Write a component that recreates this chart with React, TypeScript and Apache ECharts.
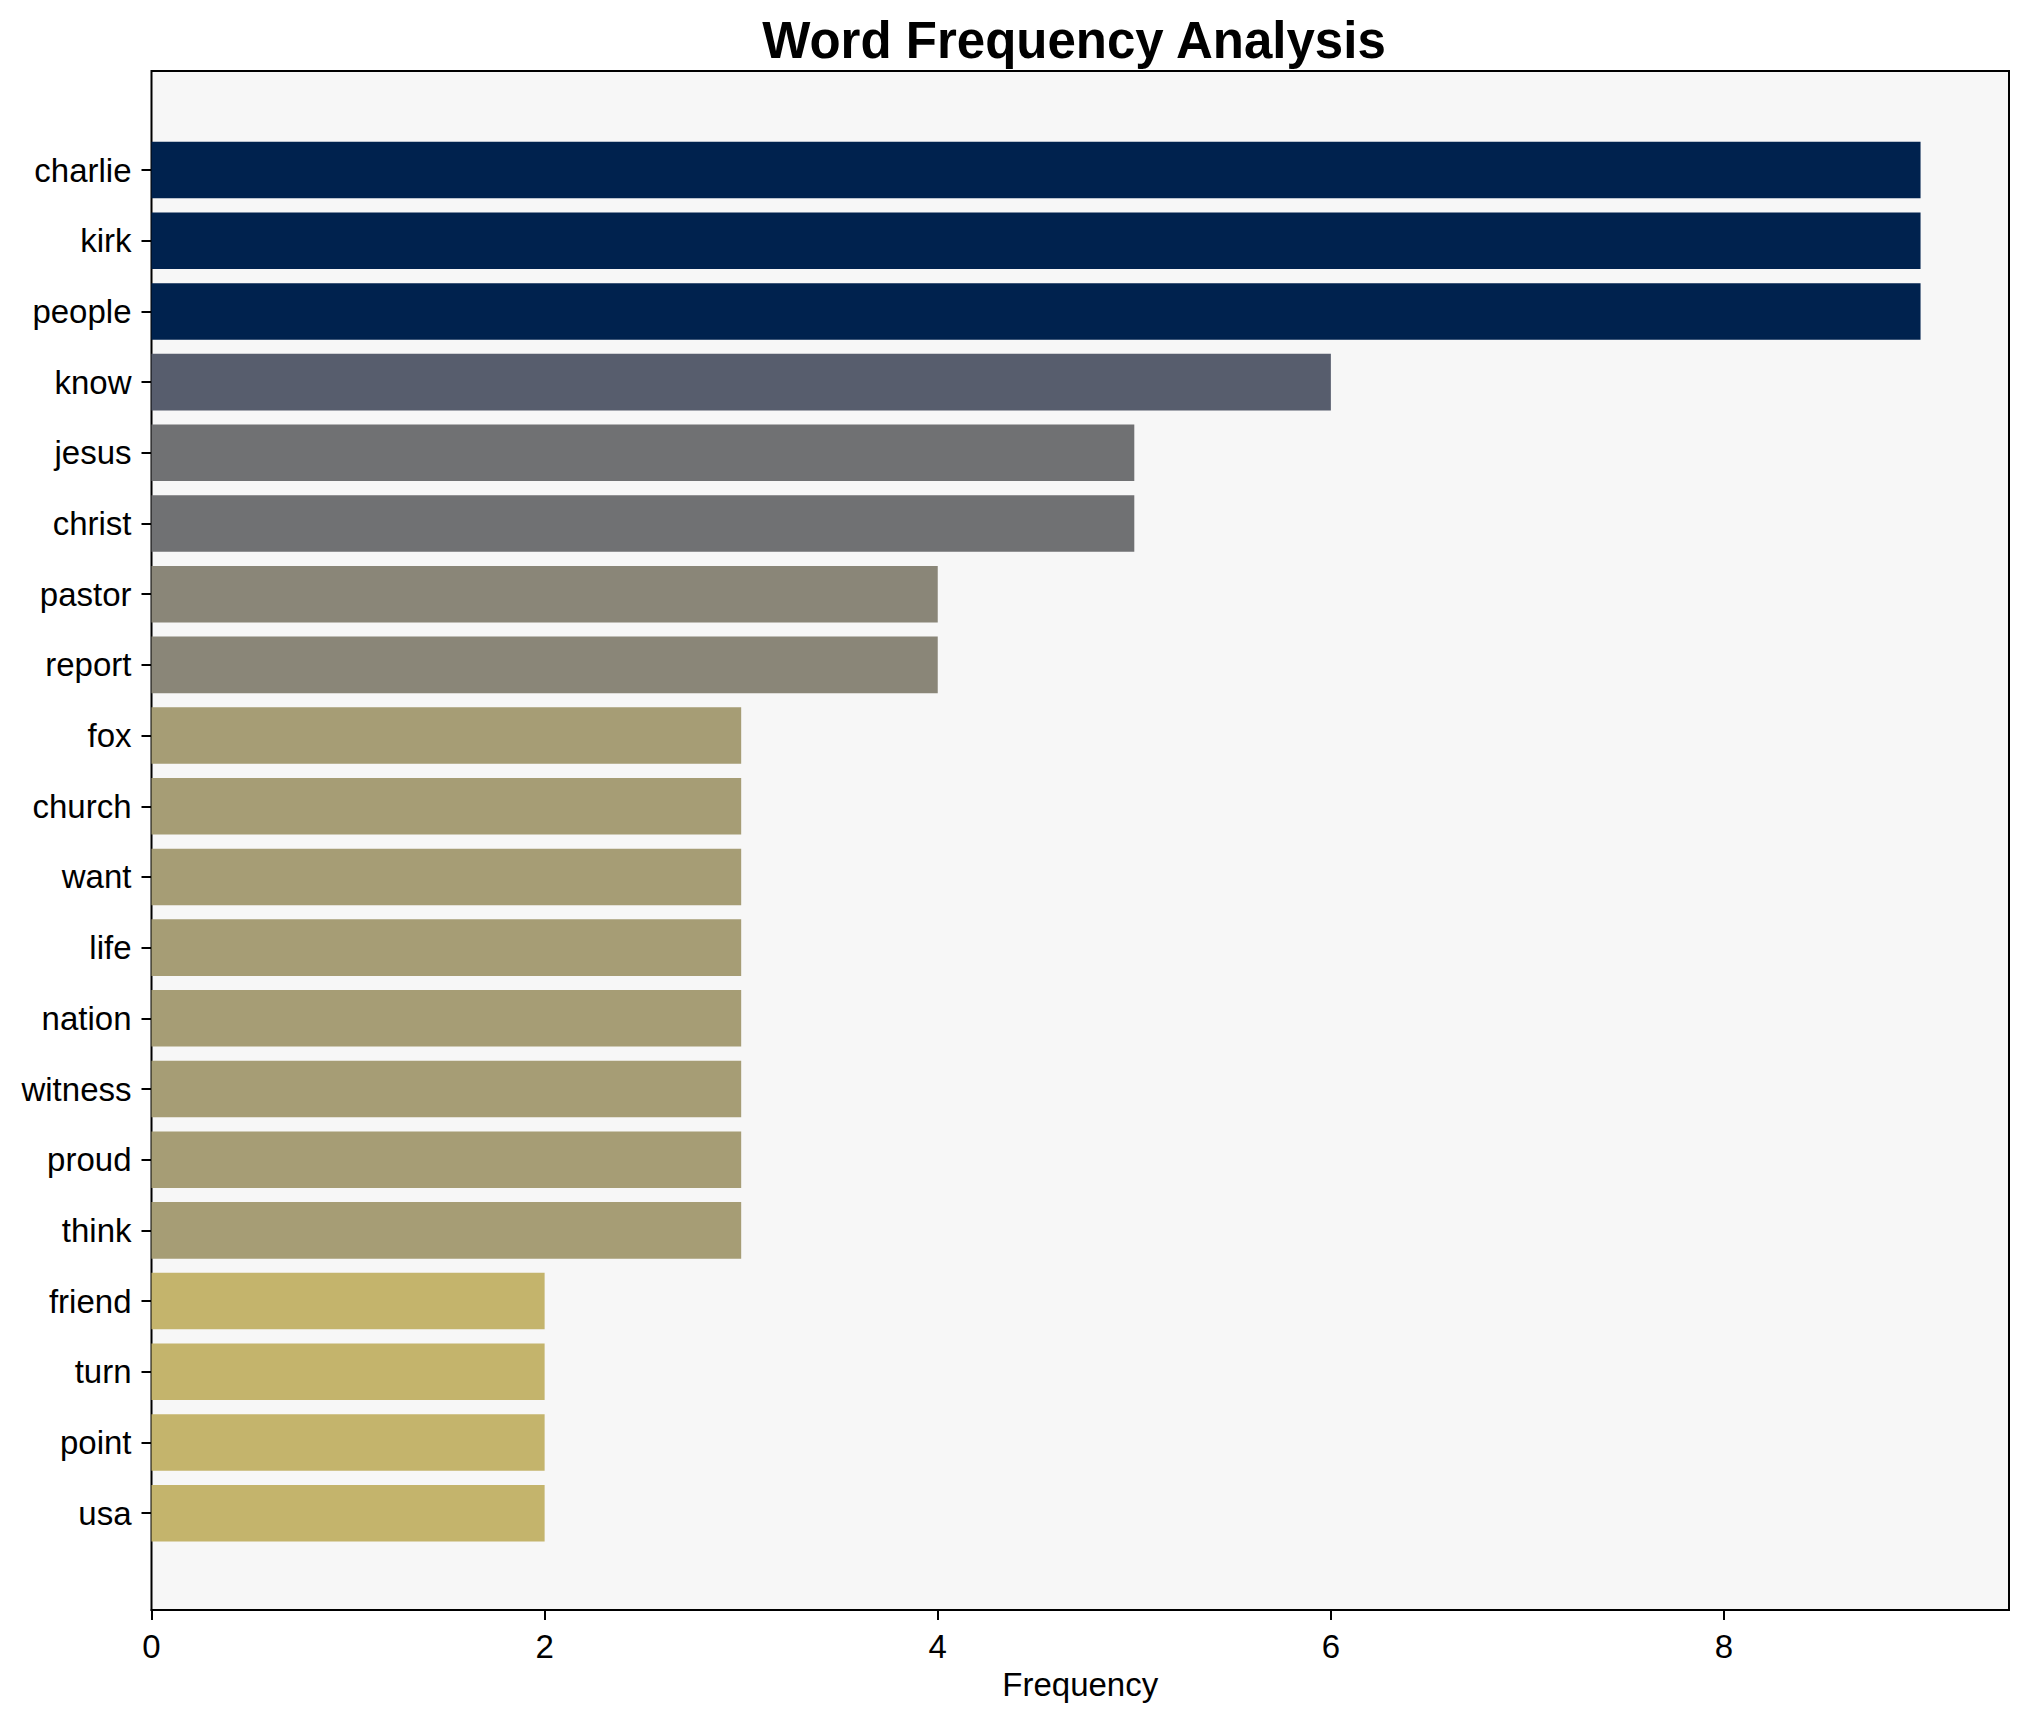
import React, { useEffect, useRef } from "react";
import * as echarts from "echarts";

const words = [
  "charlie", "kirk", "people", "know", "jesus", "christ", "pastor", "report",
  "fox", "church", "want", "life", "nation", "witness", "proud", "think",
  "friend", "turn", "point", "usa",
];
const frequencies = [9, 9, 9, 6, 5, 5, 4, 4, 3, 3, 3, 3, 3, 3, 3, 3, 2, 2, 2, 2];
const xTicks = [0, 2, 4, 6, 8];
const colorByValue: Record<number, string> = {
  9: "#00224e",
  6: "#575d6d",
  5: "#707173",
  4: "#8a8678",
  3: "#a69d75",
  2: "#c4b46c",
};

const FONT = "'Liberation Sans', Arial, Helvetica, sans-serif";
const W = 2030;
const H = 1722;
const L = 151.5;
const R = 2009;
const T = 71;
const B = 1610;
const XMAX = 9.45;
const bandTop = 134.7;
const bandBottom = 1548.5;

export default function App() {
  const ref = useRef<HTMLDivElement>(null);
  useEffect(() => {
    if (!ref.current) return;
    const chart = echarts.init(ref.current, undefined, { renderer: "svg" });
    chart.setOption({
      animation: false,
      backgroundColor: "#ffffff",
      title: {
        text: "Word Frequency Analysis",
        left: 1069,
        textAlign: "center",
        top: 10,
        textStyle: { fontFamily: FONT, fontSize: 51, fontWeight: "bold", color: "#000" },
      },
      grid: [
        {
          left: L, right: W - R, top: T, bottom: H - B,
          show: true, backgroundColor: "#f7f7f7", borderColor: "#000", borderWidth: 2,
        },
        {
          left: L, right: W - R, top: bandTop, bottom: H - bandBottom,
        },
      ],
      xAxis: [
        {
          gridIndex: 0, type: "value", min: 0, max: XMAX, interval: 2,
          name: "Frequency", nameLocation: "middle", nameGap: 57,
          nameTextStyle: { fontFamily: FONT, fontSize: 33, color: "#000" },
          axisLine: { show: true, lineStyle: { color: "#000", width: 2 } },
          axisTick: { show: true, length: 10, lineStyle: { color: "#000", width: 2 } },
          axisLabel: {
            fontFamily: FONT, fontSize: 33, color: "#000", margin: 20,
            showMaxLabel: false,
            formatter: (v: number) => (xTicks.includes(v) ? String(v) : ""),
          },
          splitLine: { show: false },
        },
        {
          gridIndex: 1, type: "value", min: 0, max: XMAX, show: false,
        },
      ],
      yAxis: [
        { gridIndex: 0, type: "value", min: 0, max: 1, show: false },
        {
          gridIndex: 1, type: "category", data: words, inverse: true,
          axisLine: { show: false },
          axisTick: { show: true, alignWithLabel: true, length: 10, lineStyle: { color: "#000", width: 2 } },
          axisLabel: { fontFamily: FONT, fontSize: 33, color: "#000", margin: 20 },
          splitLine: { show: false },
        },
      ],
      series: [
        {
          type: "bar",
          xAxisIndex: 1,
          yAxisIndex: 1,
          barCategoryGap: "20%",
          data: frequencies.map((v) => ({ value: v, itemStyle: { color: colorByValue[v] } })),
        },
      ],
    });
    return () => chart.dispose();
  }, []);
  return (
    <div
      ref={ref}
      style={{ position: "fixed", left: 0, top: 0, width: W, height: H }}
    />
  );
}
